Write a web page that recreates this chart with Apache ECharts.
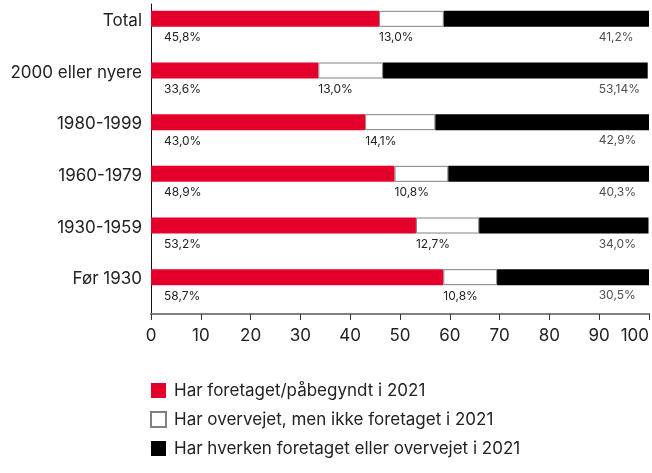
<!DOCTYPE html>
<html>
<head>
<meta charset="utf-8">
<script src="https://cdn.jsdelivr.net/npm/echarts@6/dist/echarts.min.js"></script>
<style>
  html, body { margin: 0; padding: 0; background: #fff; }
  #chart { width: 652px; height: 473px; }
</style>
</head>
<body>
<div id="chart"></div>
<script>
// Building-age groups and the share of owners in each answer group (percent)
const categories = ['Total', '2000 eller nyere', '1980-1999', '1960-1979', '1930-1959', 'Før 1930'];
const started = [45.8, 33.6, 43.0, 48.9, 53.2, 58.7];
const considered = [13.0, 13.0, 14.1, 10.8, 12.7, 10.8];
const neither = [41.2, 53.14, 42.9, 40.3, 34.0, 30.5];
const xTicks = [0, 10, 20, 30, 40, 50, 60, 70, 80, 90, 100];

const seriesNames = [
  'Har foretaget/påbegyndt i 2021',
  'Har overvejet, men ikke foretaget i 2021',
  'Har hverken foretaget eller overvejet i 2021'
];

const FONT = 'Inter, "Noto Sans", sans-serif';
const TEXT = '#222';

// 45.8 -> "45,8%", 53.14 -> "53,14%"
function pct(v) {
  const oneDec = Math.abs(v * 10 - Math.round(v * 10)) < 1e-9;
  return (oneDec ? v.toFixed(1) : String(v)).replace('.', ',') + '%';
}

// anchor on the value axis where the third group's labels start
const NEITHER_LABEL_AT = 90;

const valueLabel = (pos) => ({
  show: true,
  position: pos,
  align: 'left',
  verticalAlign: 'middle',
  color: TEXT,
  fontFamily: FONT,
  fontSize: 12,
  formatter: (p) => pct(p.value)
});

const chart = echarts.init(document.getElementById('chart'), null, { renderer: 'canvas' });

chart.setOption({
  animation: false,
  backgroundColor: '#fff',
  grid: { left: 151, right: 2, top: 4, bottom: 159, containLabel: false },
  xAxis: {
    type: 'value',
    min: xTicks[0],
    max: xTicks[xTicks.length - 1],
    interval: xTicks[1] - xTicks[0],
    axisLine: { show: true, lineStyle: { color: '#808080', width: 2 } },
    axisTick: { show: true, length: 6, lineStyle: { color: '#333' } },
    splitLine: { show: false },
    axisLabel: {
      color: TEXT, fontFamily: FONT, fontSize: 17, margin: 13,
      alignMaxLabel: 'right'
    }
  },
  yAxis: {
    type: 'category',
    inverse: true,
    data: categories,
    axisLine: { show: true, lineStyle: { color: '#111', width: 1 } },
    axisTick: { show: false },
    axisLabel: {
      color: TEXT, fontFamily: FONT, fontSize: 17, margin: 9,
      verticalAlign: 'bottom', lineHeight: 18
    }
  },
  legend: {
    orient: 'vertical',
    left: 145,
    top: 377,
    itemWidth: 15,
    itemHeight: 15,
    itemGap: 12,
    icon: 'rect',
    data: seriesNames,
    textStyle: { color: TEXT, fontFamily: FONT, fontSize: 17, padding: [0, 0, 0, 3] }
  },
  series: [
    {
      name: seriesNames[0], type: 'bar', stack: 'share', barWidth: 16, barGap: '37.5%',
      itemStyle: { color: '#e4002b' },
      label: valueLabel([13, 27]),
      data: started
    },
    {
      name: seriesNames[1], type: 'bar', stack: 'share', barWidth: 16,
      itemStyle: { color: '#fff', borderColor: '#808080', borderWidth: 1 },
      label: valueLabel([0, 27]),
      data: considered
    },
    {
      name: seriesNames[2], type: 'bar', stack: 'share', barWidth: 16,
      itemStyle: { color: '#000' },
      data: neither
    },
    {
      // empty slot below each stacked bar, leaves room for the value labels
      name: 'spacer', type: 'bar', stack: 'spacer', barWidth: 16,
      silent: true,
      itemStyle: { color: 'transparent' },
      data: categories.map(() => 0)
    },
    {
      // labels of the third group, aligned in one column
      name: 'neither-labels', type: 'scatter',
      symbolSize: 1, silent: true,
      itemStyle: { color: 'transparent' },
      label: {
        show: true, position: [0, 8], align: 'left', verticalAlign: 'middle',
        color: TEXT, fontFamily: FONT, fontSize: 12,
        formatter: (p) => pct(neither[p.dataIndex])
      },
      data: categories.map((c) => [NEITHER_LABEL_AT, c])
    }
  ]
});
</script>
</body>
</html>
